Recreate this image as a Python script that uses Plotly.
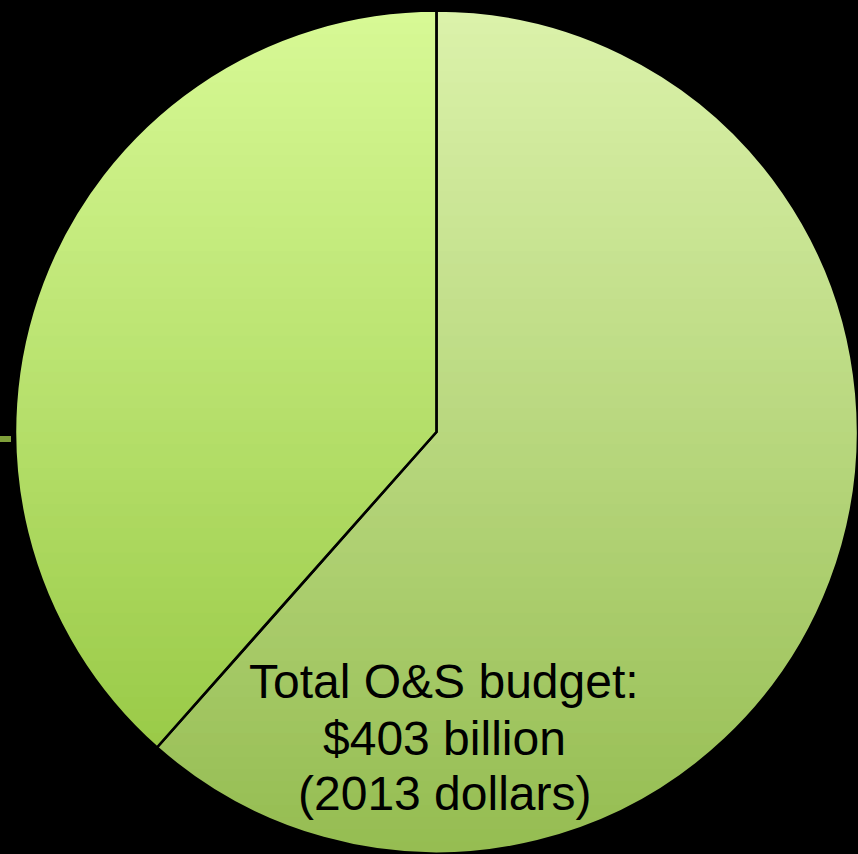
import numpy as np
import plotly.graph_objects as go

# Budget split, billions of 2013 dollars
categories = ["Operation and maintenance", "Military personnel"]
values = [248, 155]
total_label = "Total O&S budget:"
units_label = "(2013 dollars)"

W, H = 858, 854
# Pie placement (pixels)
left_pad, top_pad = 15, 10
dom_x = [left_pad / W, 1.0]
dom_y = [0.0, 1.0 - top_pad / H]
R = min(W - left_pad, H - top_pad) / 2.0
cx = left_pad + (W - left_pad) / 2.0
cy = top_pad + (H - top_pad) / 2.0

fig = go.Figure()

# Slices: translucent tints laid over a vertical green gradient disc
fig.add_trace(go.Pie(
    labels=categories,
    values=values,
    sort=False,
    direction="clockwise",
    rotation=0,
    domain=dict(x=dom_x, y=dom_y),
    marker=dict(
        colors=["rgba(212,232,168,0.3)", "rgba(200,255,100,0.3)"],
        line=dict(color="black", width=2.5),
    ),
    textinfo="none",
    hoverinfo="label+value+percent",
    showlegend=False,
))

# Invisible pixel-space axes used to place the gradient disc
fig.update_xaxes(range=[0, W], visible=False, fixedrange=True)
fig.update_yaxes(range=[H, 0], visible=False, fixedrange=True)
fig.add_trace(go.Scatter(x=[None], y=[None], showlegend=False, hoverinfo="skip"))

# Gradient disc built from horizontal bands clipped to the circle
top_col = np.array([223, 247, 172], float)
bot_col = np.array([122, 170, 44], float)
n_bands = 70
edges = np.linspace(cy - R, cy + R, n_bands + 1)
for i in range(n_bands):
    y1 = edges[i]
    y2 = min(edges[i + 1] + 1.0, cy + R)
    ys = np.linspace(y1, y2, 8)
    half = np.sqrt(np.clip(R**2 - (ys - cy) ** 2, 0, None))
    xl = cx - half
    xr = cx + half
    pts = list(zip(xl, ys)) + list(zip(xr[::-1], ys[::-1]))
    path = "M " + " L ".join(f"{x:.2f},{y:.2f}" for x, y in pts) + " Z"
    t = ((y1 + edges[i + 1]) / 2 - (cy - R)) / (2 * R)
    c = top_col + (bot_col - top_col) * t
    fig.add_shape(
        type="path", path=path, xref="x", yref="y", layer="below",
        fillcolor=f"rgb({c[0]:.0f},{c[1]:.0f},{c[2]:.0f})",
        line=dict(width=0),
    )

# Short leader stub at the left edge
fig.add_shape(type="line", xref="paper", yref="paper",
              x0=0, x1=11 / W, y0=1 - 439 / H, y1=1 - 439 / H,
              line=dict(color="#7f9f3a", width=6), layer="above")

# Centre-bottom caption, one annotation per line
total = sum(values)
caption = [total_label, f"${total} billion", units_label]
line_centres = [681, 738, 793]
for txt, yc in zip(caption, line_centres):
    fig.add_annotation(
        x=444 / W, y=1 - yc / H, xref="paper", yref="paper",
        xanchor="center", yanchor="middle", showarrow=False,
        text=txt,
        font=dict(family="Liberation Sans, Arial, sans-serif", size=48, color="black"),
    )

fig.update_layout(
    width=W, height=H,
    margin=dict(l=0, r=0, t=0, b=0),
    paper_bgcolor="black",
    plot_bgcolor="rgba(0,0,0,0)",
)

fig.write_html("out.html")
